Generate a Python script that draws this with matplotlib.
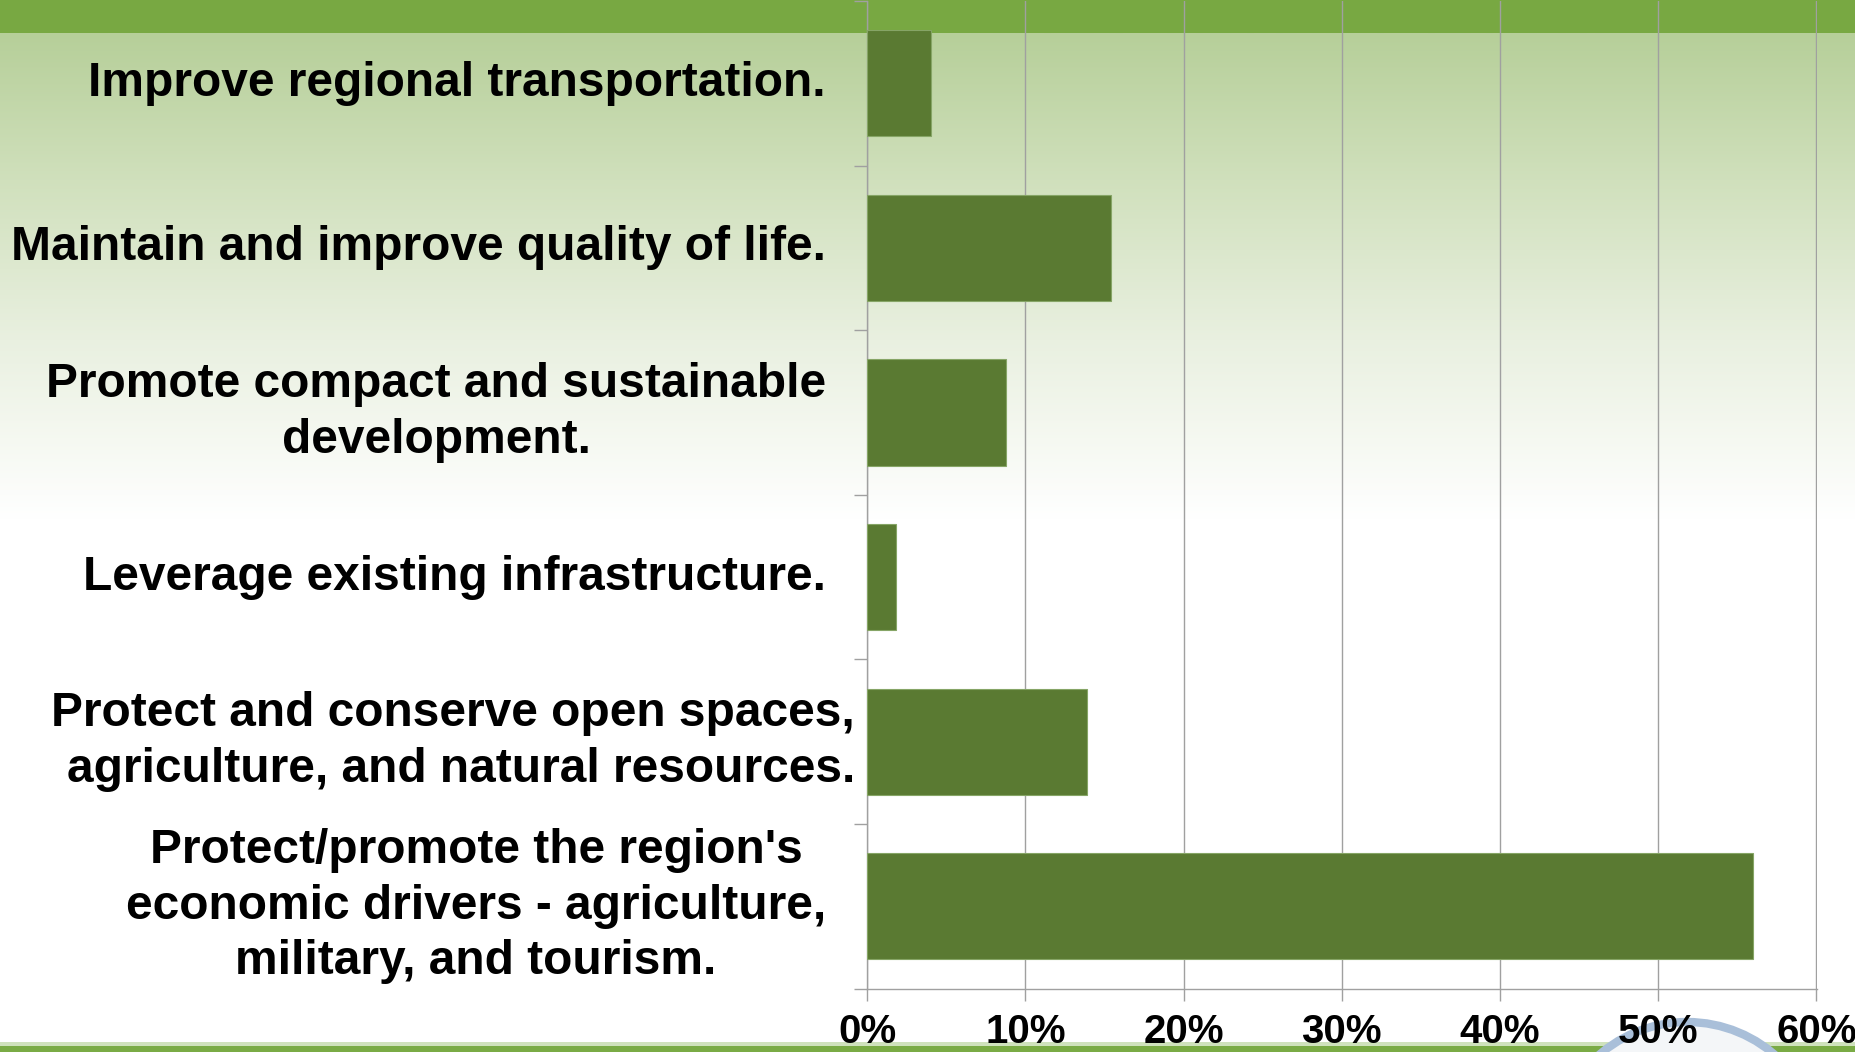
import numpy as np
import matplotlib
matplotlib.use("Agg")
import matplotlib.pyplot as plt
from matplotlib.patches import Rectangle, Circle
from matplotlib.colors import LinearSegmentedColormap

# ---- data ----
categories = [
    "Improve regional transportation.",
    "Maintain and improve quality of life.",
    "Promote compact and sustainable\ndevelopment.",
    "Leverage existing infrastructure.",
    "Protect and conserve open spaces,\nagriculture, and natural resources.",
    "Protect/promote the region's\neconomic drivers - agriculture,\nmilitary, and tourism.",
]
values = [0.040, 0.154, 0.088, 0.018, 0.139, 0.560]
xticks = [0.0, 0.1, 0.2, 0.3, 0.4, 0.5, 0.6]
xticklabels = ["0%", "10%", "20%", "30%", "40%", "50%", "60%"]

plt.rcParams['font.family'] = ['Liberation Sans', 'DejaVu Sans']

W, H = 1856, 1052
fig = plt.figure(figsize=(W / 100, H / 100), dpi=100)

# ---- slide background ----
bg = fig.add_axes([0, 0, 1, 1], zorder=-1)
bg.set_xlim(0, W)
bg.set_ylim(H, 0)
bg.axis('off')
cmap = LinearSegmentedColormap.from_list(
    'bg', [(0.0, '#b6cf99'), (0.30, '#d0e0bc'), (0.63, '#e9f0e0'), (1.0, '#ffffff')])
grad = np.linspace(0, 1, 256).reshape(-1, 1)
bg.imshow(grad, cmap=cmap, aspect='auto', extent=(0, W, 520, 33), zorder=0)
bg.add_patch(Rectangle((0, 0), W, 33, color='#78a842', zorder=1, lw=0))
bg.add_patch(Rectangle((0, 1042), W, 5, color='#cfe2bc', zorder=1, lw=0))
bg.add_patch(Rectangle((0, 1046), W, 6, color='#7aab45', zorder=1, lw=0))
# partial seal in the corner
bg.add_patch(Circle((1687, 1156), 134, facecolor='#f4f6f8', edgecolor='#a9bfd9',
                    lw=6, zorder=2))

# ---- chart ----
left = 867.3 / W
right = 1817.0 / W
bottom = (H - 988.6) / H
top = (H - 1.0) / H
ax = fig.add_axes([left, bottom, right - left, top - bottom])
ax.patch.set_alpha(0)

y = np.arange(len(categories))
ax.barh(y, values, height=0.645, color='#5a7a32', edgecolor='#86a566',
        linewidth=0.8, zorder=3)

ax.set_xlim(0, 0.6004)
ax.set_ylim(len(categories) - 0.5, -0.5)

ax.set_xticks(xticks)
ax.set_xticklabels(xticklabels, fontsize=29, fontweight='bold')
ax.tick_params(axis='x', length=8.6, width=1.0, color='#a0a0a0', pad=9)
ax.set_yticks(np.arange(len(categories) + 1) - 0.5)
ax.set_yticklabels([])
ax.tick_params(axis='y', length=9.5, width=1.0, color='#a0a0a0')

ax.grid(axis='x', color='#a0a0a0', linewidth=1.0, zorder=1)
ax.set_axisbelow(True)
for s in ['top', 'right']:
    ax.spines[s].set_visible(False)
for s in ['left', 'bottom']:
    ax.spines[s].set_color('#a0a0a0')
    ax.spines[s].set_linewidth(1.0)

ax_w = right * W - left * W
label_right = [826, 826, 826, 826, 855, 826]
label_align = ['center', 'center', 'center', 'center', 'right', 'center']
for i, lab in enumerate(categories):
    xa = (label_right[i] - left * W) / ax_w
    ax.text(xa, i, lab, transform=ax.get_yaxis_transform(), ha='right',
            va='center', multialignment=label_align[i], fontsize=34.5,
            fontweight='bold', color='black', clip_on=False, linespacing=1.3)

fig.savefig('out.png', dpi=100)
